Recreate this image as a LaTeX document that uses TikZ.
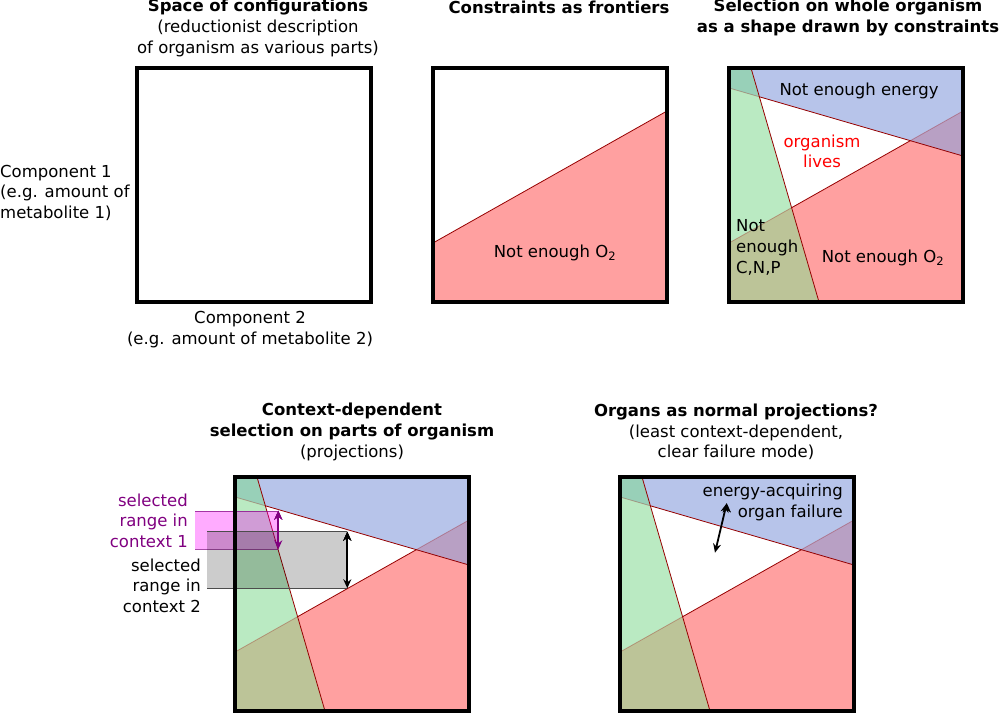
\documentclass[tikz,border=0pt]{standalone}
\usepackage{fontspec}
\setmainfont{DejaVu Sans}
\usetikzlibrary{arrows.meta,positioning}
\definecolor{lowred}{RGB}{255,160,160}
\definecolor{lowblue}{RGB}{183,196,234}
\definecolor{lowgreen}{RGB}{186,234,194}
\definecolor{lowteal}{RGB}{152,208,184}
\definecolor{lowolive}{RGB}{188,196,152}
\definecolor{lowpurple}{RGB}{184,160,196}
\definecolor{edgered}{RGB}{150,0,0}
\definecolor{selpurple}{RGB}{128,0,128}
\definecolor{selpink}{RGB}{255,0,255}

\begin{document}
\begin{tikzpicture}[x=1pt,y=-1pt]
\tikzstyle{txt}=[font=\fontsize{16.5}{20.7}\selectfont,inner sep=0pt,align=center]
\tikzstyle{frame}=[line width=4pt]
\tikzstyle{frontier}=[edgered,line width=0.8pt]
\tikzstyle{faint}=[frontier,opacity=0.3]
\tikzstyle{twoway}=[line width=1.8pt,{Stealth[length=9pt,width=8pt]}-{Stealth[length=9pt,width=8pt]}]
\useasboundingbox (0,0) rectangle (999,714);
% titles
\node [txt] at (258,28) (t1) {\textbf{Space of configurations}\\(reductionist description\\of organism as various parts)};
\node [txt] at (559,7) (t2) {\textbf{Constraints as frontiers}};
\node [txt] at (848,17.5) (t3) {\textbf{Selection on whole organism}\\\textbf{as a shape drawn by constraints}};
\node [txt] at (352,432) (t4) {\textbf{Context-dependent}\\\textbf{selection on parts of organism}\\(projections)};
\node [txt] at (736,432) (t5) {\textbf{Organs as normal projections?}\\(least context-dependent,\\clear failure mode)};
\node [txt,align=left,anchor=west] at (0,192.7) (ax1) {Component 1\\(e.g. amount of\\metabolite 1)};
\node [txt] at (250,329.7) (ax2) {Component 2\\(e.g. amount of metabolite 2)};
% one constraint
\begin{scope}[shift={(433,68)}]
\coordinate (o2l) at (0,175);
\coordinate (o2r) at (234,43);
\fill [lowred] (o2l) -- (o2r) -- (234,234) -- (0,234) -- cycle;
\draw [frontier] (o2l) -- (o2r);
\draw [frontier] (-2,235.5) -- (236,235.5);
\end{scope}
% three constraints
\foreach \px/\py in {729/68,235/477,620/477}{
\begin{scope}[shift={(\px,\py)}]
\coordinate (o2l) at (0,175);
\coordinate (o2r) at (234,43);
\coordinate (enl) at (0,20);
\coordinate (enr) at (234,88);
\coordinate (cnt) at (22,0);
\coordinate (cnb) at (90,234);
\coordinate (x1) at (62.6,139.7);
\coordinate (x2) at (30.4,28.8);
\coordinate (x3) at (181.3,72.7);
\fill [lowred] (o2l) -- (o2r) -- (234,234) -- (0,234) -- cycle;
\fill [lowblue] (0,0) -- (234,0) -- (enr) -- (enl) -- cycle;
\fill [lowgreen] (0,0) -- (cnt) -- (cnb) -- (0,234) -- cycle;
\begin{scope}
\clip (0,0) -- (cnt) -- (cnb) -- (0,234) -- cycle;
\fill [lowolive] (o2l) -- (o2r) -- (234,234) -- (0,234) -- cycle;
\fill [lowteal] (0,0) -- (234,0) -- (enr) -- (enl) -- cycle;
\end{scope}
\begin{scope}
\clip (0,0) -- (234,0) -- (enr) -- (enl) -- cycle;
\fill [lowpurple] (o2l) -- (o2r) -- (234,234) -- (0,234) -- cycle;
\end{scope}
\draw [faint] (enl) -- (x2);
\draw [faint] (o2l) -- (x1);
\draw [faint] (x3) -- (o2r);
\draw [frontier] (cnt) -- (cnb);
\draw [frontier] (x2) -- (enr);
\draw [frontier] (x1) -- (x3);
\draw [frontier] (-2,235.5) -- (236,235.5);
\end{scope}}
% selected ranges
\fill [selpink,opacity=0.33] (195,511) rectangle (278.3,549.3);
\draw [selpurple,opacity=0.7,line width=1pt] (195,511) -- (278.3,511) (195,549.3) -- (278.3,549.3);
\fill [black,opacity=0.2] (207.3,531.7) rectangle (347.3,588.3);
\draw [black!70,line width=1pt] (207.3,531.7) -- (347.3,531.7) (207.3,588.3) -- (347.3,588.3);
% frames
\foreach \px/\py in {137/68,433/68,729/68,235/477,620/477}
  \draw [frame] (\px,\py) rectangle ++(234,234);
% region labels
\node [txt] at (555,253) (o2a) {Not enough O\textsubscript{2}};
\node [txt] at (859,91) (en) {Not enough energy};
\node [txt,red] at (822,151.3) (live) {organism\\lives};
\node [txt,align=left,anchor=west] at (736,247.3) (cnp) {Not\\enough\\C,N,P};
\node [txt] at (883,258.3) (o2b) {Not enough O\textsubscript{2}};
\node [txt,selpurple,align=right,anchor=east] at (188,520.7) (ctx1) {selected\\range in\\context 1};
\node [txt,align=right,anchor=east] at (201,585.7) (ctx2) {selected\\range in\\context 2};
\node [txt,align=right,anchor=east] at (843,502.3) (fail) {energy-acquiring\\organ failure};
% arrows
\coordinate (r1a) at (278.3,510.7);
\coordinate (r1b) at (278.3,549.3);
\coordinate (r2a) at (347.3,531.7);
\coordinate (r2b) at (347.3,588.3);
\coordinate (fa) at (726.7,503.3);
\coordinate (fb) at (715,552.7);
\draw [twoway,selpurple] (r1a) edge (r1b);
\draw [twoway] (r2a) edge (r2b);
\draw [twoway] (fa) edge (fb);
\end{tikzpicture}
\end{document}
